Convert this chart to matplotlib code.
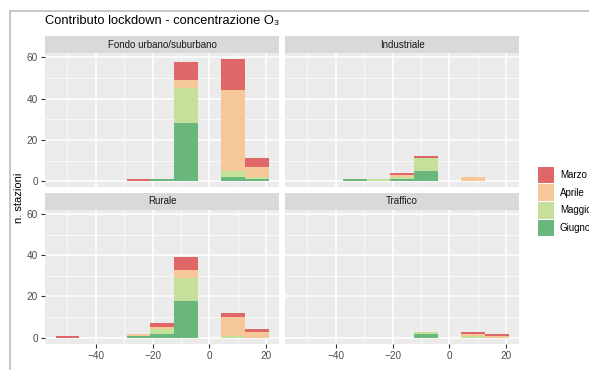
import matplotlib
matplotlib.use("Agg")
import matplotlib.pyplot as plt
from matplotlib.patches import Rectangle

plt.rcParams["font.family"] = ["Liberation Sans", "DejaVu Sans"]

# histogram bins (centres, width) shared by all panels
bin_centers = [-50.0, -41.67, -33.33, -25.0, -16.67, -8.33, 0.0, 8.33, 16.67]
bin_width = 8.33

months = ["Marzo", "Aprile", "Maggio", "Giugno"]
colors = {"Marzo": "#E06767", "Aprile": "#F6C798",
          "Maggio": "#C4E09B", "Giugno": "#6AB77E"}

# n. stazioni per bin, per month
fondo = {
    "Marzo":  [0, 0, 0, 1, 0, 9, 0, 15, 4],
    "Aprile": [0, 0, 0, 0, 0, 4, 0, 39, 5],
    "Maggio": [0, 0, 0, 0, 0, 17, 0, 3, 1],
    "Giugno": [0, 0, 0, 0, 1, 28, 0, 2, 1],
}
industriale = {
    "Marzo":  [0, 0, 0, 0, 1, 1, 0, 0, 0],
    "Aprile": [0, 0, 0, 0, 1, 0, 0, 2, 0],
    "Maggio": [0, 0, 0, 1, 1, 6, 0, 0, 0],
    "Giugno": [0, 0, 1, 0, 1, 5, 0, 0, 0],
}
rurale = {
    "Marzo":  [1, 0, 0, 0, 2, 6, 0, 2, 1],
    "Aprile": [0, 0, 0, 1, 1, 4, 0, 9, 3],
    "Maggio": [0, 0, 0, 0, 2, 11, 0, 1, 0],
    "Giugno": [0, 0, 0, 1, 2, 18, 0, 0, 0],
}
traffico = {
    "Marzo":  [0, 0, 0, 0, 0, 0, 0, 1, 1],
    "Aprile": [0, 0, 0, 0, 0, 0, 0, 1, 1],
    "Maggio": [0, 0, 0, 0, 0, 1, 0, 1, 0],
    "Giugno": [0, 0, 0, 0, 0, 2, 0, 0, 0],
}

panels = [("Fondo urbano/suburbano", fondo), ("Industriale", industriale),
          ("Rurale", rurale), ("Traffico", traffico)]

W, H = 589, 370
fig = plt.figure(figsize=(W / 100, H / 100), dpi=100)

# outer frame
fig.add_artist(Rectangle((10 / W, -0.1), 1.2, 1.1 - 10.5 / H,
                         transform=fig.transFigure, fill=False,
                         edgecolor="#bdbdbd", lw=1.2))

fig.text(45 / W, 1 - 21 / H, "Contributo lockdown - concentrazione O\u2083",
         fontsize=9.3, va="center", ha="left", color="#000000")

lefts = [45, 285]
tops = [53.4, 210]
pw, ph, sh = 234.3, 133.8, 17.3

for i, (name, counts) in enumerate(panels):
    r, c = divmod(i, 2)
    x0 = lefts[c]
    y0 = tops[r]
    ax = fig.add_axes([x0 / W, 1 - (y0 + ph) / H, pw / W, ph / H])
    sax = fig.add_axes([x0 / W, 1 - y0 / H, pw / W, sh / H])
    sax.set_facecolor("#D9D9D9")
    sax.set_xticks([])
    sax.set_yticks([])
    for s in sax.spines.values():
        s.set_visible(False)
    sax.text(0.5, 0.5, name, ha="center", va="center", fontsize=7,
             color="#1a1a1a", transform=sax.transAxes)

    ax.set_facecolor("#EBEBEB")
    bottom = [0] * len(bin_centers)
    for m in ["Giugno", "Maggio", "Aprile", "Marzo"]:
        ax.bar(bin_centers, counts[m], width=bin_width, bottom=bottom,
               color=colors[m], linewidth=0, zorder=3, label=m)
        bottom = [b + v for b, v in zip(bottom, counts[m])]

    ax.set_xlim(-57.9, 24.6)
    ax.set_ylim(-2.95, 61.95)
    ax.set_xticks([-40, -20, 0, 20])
    ax.set_xticks([-50, -30, -10, 10], minor=True)
    ax.set_yticks([0, 20, 40, 60])
    ax.set_yticks([10, 30, 50], minor=True)
    ax.grid(which="major", color="white", lw=1.1, zorder=1)
    ax.grid(which="minor", color="white", lw=0.5, zorder=1)
    ax.set_axisbelow(True)
    for s in ax.spines.values():
        s.set_visible(False)
    ax.tick_params(which="minor", length=0)
    ax.tick_params(which="major", length=3, width=0.8, color="#333333",
                   labelsize=7.2, labelcolor="#4D4D4D", pad=2)
    if c == 1:
        ax.tick_params(axis="y", left=False, labelleft=False)
    if r == 0:
        ax.tick_params(axis="x", bottom=False, labelbottom=False)

fig.text(19 / W, 1 - 198 / H, "n. stazioni", rotation=90, fontsize=8,
         va="center", ha="center")

# legend
key_w, key_h = 16.7, 16.6
for j, m in enumerate(months):
    ky = 166.7 + j * 17.6
    fig.add_artist(Rectangle((537.7 / W, 1 - (ky + key_h) / H), key_w / W, key_h / H,
                             transform=fig.transFigure, facecolor=colors[m],
                             edgecolor="none"))
    fig.text(560 / W, 1 - (ky + key_h / 2) / H, m, fontsize=7,
             va="center", ha="left", color="#000000")

fig.savefig("out.png", dpi=100)
